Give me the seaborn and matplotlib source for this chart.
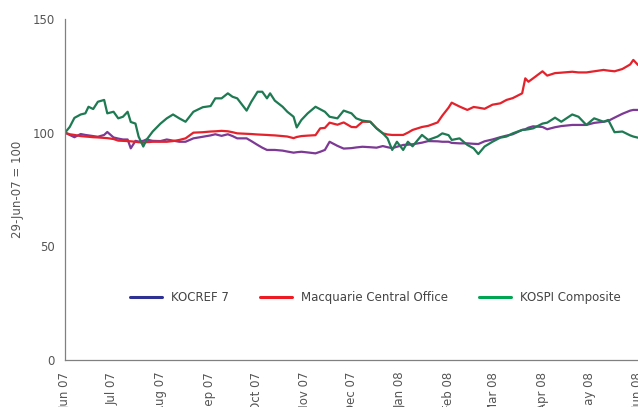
import matplotlib
matplotlib.use("Agg")
import matplotlib.pyplot as plt
import matplotlib.dates as mdates
from matplotlib.lines import Line2D
import seaborn as sns
import pandas as pd

# values, rebased to 29-Jun-07 = 100
dates = [
    "2007-06-29", "2007-07-02", "2007-07-05", "2007-07-09", "2007-07-12", "2007-07-14",
    "2007-07-17", "2007-07-20", "2007-07-24", "2007-07-26", "2007-07-30", "2007-08-02",
    "2007-08-05", "2007-08-08", "2007-08-10", "2007-08-13", "2007-08-15", "2007-08-18",
    "2007-08-20", "2007-08-24", "2007-08-29", "2007-09-02", "2007-09-06", "2007-09-10",
    "2007-09-14", "2007-09-19", "2007-09-25", "2007-09-30", "2007-10-03", "2007-10-07",
    "2007-10-11", "2007-10-14", "2007-10-17", "2007-10-23", "2007-10-26", "2007-10-30",
    "2007-11-02", "2007-11-05", "2007-11-07", "2007-11-10", "2007-11-15", "2007-11-18",
    "2007-11-22", "2007-11-24", "2007-11-27", "2007-12-01", "2007-12-06", "2007-12-09",
    "2007-12-12", "2007-12-15", "2007-12-20", "2007-12-24", "2007-12-29", "2008-01-01",
    "2008-01-05", "2008-01-10", "2008-01-14", "2008-01-18", "2008-01-21", "2008-01-24",
    "2008-01-27", "2008-01-31", "2008-02-03", "2008-02-06", "2008-02-12", "2008-02-16",
    "2008-02-22", "2008-02-25", "2008-02-29", "2008-03-02", "2008-03-07", "2008-03-12",
    "2008-03-16", "2008-03-19", "2008-03-23", "2008-03-28", "2008-04-02", "2008-04-06",
    "2008-04-10", "2008-04-16", "2008-04-18", "2008-04-20", "2008-04-23", "2008-04-29",
    "2008-05-02", "2008-05-07", "2008-05-11", "2008-05-18", "2008-05-22", "2008-05-27",
    "2008-06-01", "2008-06-07", "2008-06-10", "2008-06-14", "2008-06-19", "2008-06-24",
    "2008-06-26", "2008-06-29",
]

kocref = [
    100, 99, 98, 99.4, 99, 98.8,
    98.5, 98.2, 99, 100.3, 97.9, 97.4,
    97, 97, 93.1, 96.4, 96.1, 96.4,
    97, 96.4, 96.3, 97, 96.5, 96,
    96, 97.5, 98.2, 98.8, 99.3, 98.6,
    99.3, 98.5, 97.5, 97.5, 96.3, 94.6,
    93.4, 92.4, 92.4, 92.4, 92.1, 91.7,
    91.2, 91.4, 91.6, 91.3, 90.9, 91.6,
    92.4, 96, 94.2, 93, 93.2, 93.5,
    93.8, 93.6, 93.4, 94.1, 93.6, 93.2,
    93.8, 94.6, 94.7, 94.9, 95.6, 96.3,
    96.2, 96, 96, 95.5, 95.3, 95.3,
    95.1, 95, 96.2, 97, 98, 98.7,
    99.3, 101.2, 101.5, 102.2, 102.8, 102.5,
    101.5, 102.4, 102.9, 103.4, 103.4, 103.4,
    104.3, 104.8, 105.2, 106.6, 108.3, 109.7,
    110, 110,
]

macquarie = [
    100, 99.3, 99, 98.5, 98.3, 98.2,
    98, 97.9, 97.7, 97.6, 97.2, 96.5,
    96.4, 96.3, 96.2, 96, 95.8, 95.6,
    95.8, 96, 96, 96, 96.3, 96.8,
    97.5, 100, 100.2, 100.5, 100.6, 100.8,
    100.6, 100.2, 99.7, 99.5, 99.4, 99.2,
    99.1, 99, 98.9, 98.8, 98.5, 98.3,
    97.6, 98.1, 98.5, 98.7, 98.9, 101.9,
    102.1, 104.4, 103.5, 104.5, 102.5, 102.4,
    104.8, 104.8, 101.9, 99.7, 99.2, 99,
    99, 99, 100, 101.2, 102.5, 103,
    104.5, 107.5, 111, 113.2, 111.5, 110,
    111.3, 111, 110.5, 112.3, 112.9, 114.4,
    115.2, 117.3, 123.9, 122.4, 123.9, 127,
    125.1, 126.2, 126.4, 126.8, 126.5, 126.5,
    127, 127.6, 127.3, 127, 128, 130,
    132, 129.8,
]

kospi = [
    100, 102.5, 106.5, 108, 108.5, 111.4,
    110.4, 113.6, 114.4, 108.5, 109.2, 106.3,
    107, 109.2, 104.7, 104, 98.3, 93.9,
    96.8, 100.5, 104, 106.3, 108, 106.3,
    104.8, 109.2, 111.2, 111.7, 115.1, 115.1,
    117.3, 115.8, 115.1, 109.7, 113.6, 118,
    118, 115.1, 117.3, 114.1, 111.4, 109.2,
    107, 102.3, 105.6, 108.5, 111.4, 110.3,
    109.2, 107, 106.3, 109.7, 108.5, 106.3,
    105.3, 104.8, 101.9, 99.7, 97.5, 92.4,
    96, 92.4, 96, 94, 99, 96.8,
    98.3, 99.7, 98.9, 96.8, 97.5, 94.6,
    93.1, 90.6, 93.9, 96, 97.8, 98.3,
    99.7, 101.2, 101.3, 101.5, 101.9, 104,
    104.4, 106.6, 104.8, 108, 107, 103.4,
    106.3, 104.8, 105.6, 100.2, 100.5, 98.8,
    98.3, 97.8,
]

series_names = ["KOCREF 7", "Macquarie Central Office", "KOSPI Composite"]
line_colors = ["#7d3a95", "#e4222b", "#1e7a52"]
legend_colors = ["#2e3192", "#ed1c24", "#00a651"]
y_ticks = [0, 50, 100, 150]

df = pd.DataFrame({
    "date": pd.to_datetime(dates),
    series_names[0]: kocref,
    series_names[1]: macquarie,
    series_names[2]: kospi,
})
long_df = df.melt(id_vars="date", var_name="series", value_name="index")

sns.set_style("white")
plt.rcParams["font.family"] = ["DejaVu Sans"]

fig = plt.figure(figsize=(6.38, 4.07), dpi=100)
ax = fig.add_axes([0.1019, 0.1155, 0.8981, 0.8378])

sns.lineplot(
    data=long_df, x="date", y="index", hue="series",
    hue_order=series_names, palette=dict(zip(series_names, line_colors)),
    linewidth=1.6, legend=False, ax=ax,
)

start = pd.Timestamp("2007-06-29")
end = pd.Timestamp("2008-06-29")
ax.set_xlim(start, end)
ax.set_ylim(0, 150)
ax.set_yticks(y_ticks)

tick_dates = pd.date_range(start, end, freq=pd.DateOffset(months=1))
ax.set_xticks(tick_dates)
ax.xaxis.set_major_formatter(mdates.DateFormatter("%b %y"))
plt.setp(ax.get_xticklabels(), rotation=90, ha="center", va="top")

grey = "#808080"
for side in ["top", "right"]:
    ax.spines[side].set_visible(False)
for side in ["left", "bottom"]:
    ax.spines[side].set_color(grey)
    ax.spines[side].set_linewidth(0.9)
ax.tick_params(axis="both", direction="inout", length=5, width=0.9, color=grey,
               labelsize=8.5, labelcolor="#555555")
ax.tick_params(axis="y", pad=5)
ax.tick_params(axis="x", pad=6)

ax.set_xlabel("")
ax.set_ylabel("29-Jun-07 = 100", fontsize=8.5, color="#555555", labelpad=6)

handles = [Line2D([], [], color=c, linewidth=2.2) for c in legend_colors]
ax.legend(handles, series_names, ncol=3, frameon=False, loc="center left",
          bbox_to_anchor=(0.113, 0.182), borderpad=0, borderaxespad=0,
          handlelength=2.7, handletextpad=0.8, columnspacing=2.6,
          fontsize=8.5, labelcolor="#444444")

fig.savefig("out.png", dpi=100)
